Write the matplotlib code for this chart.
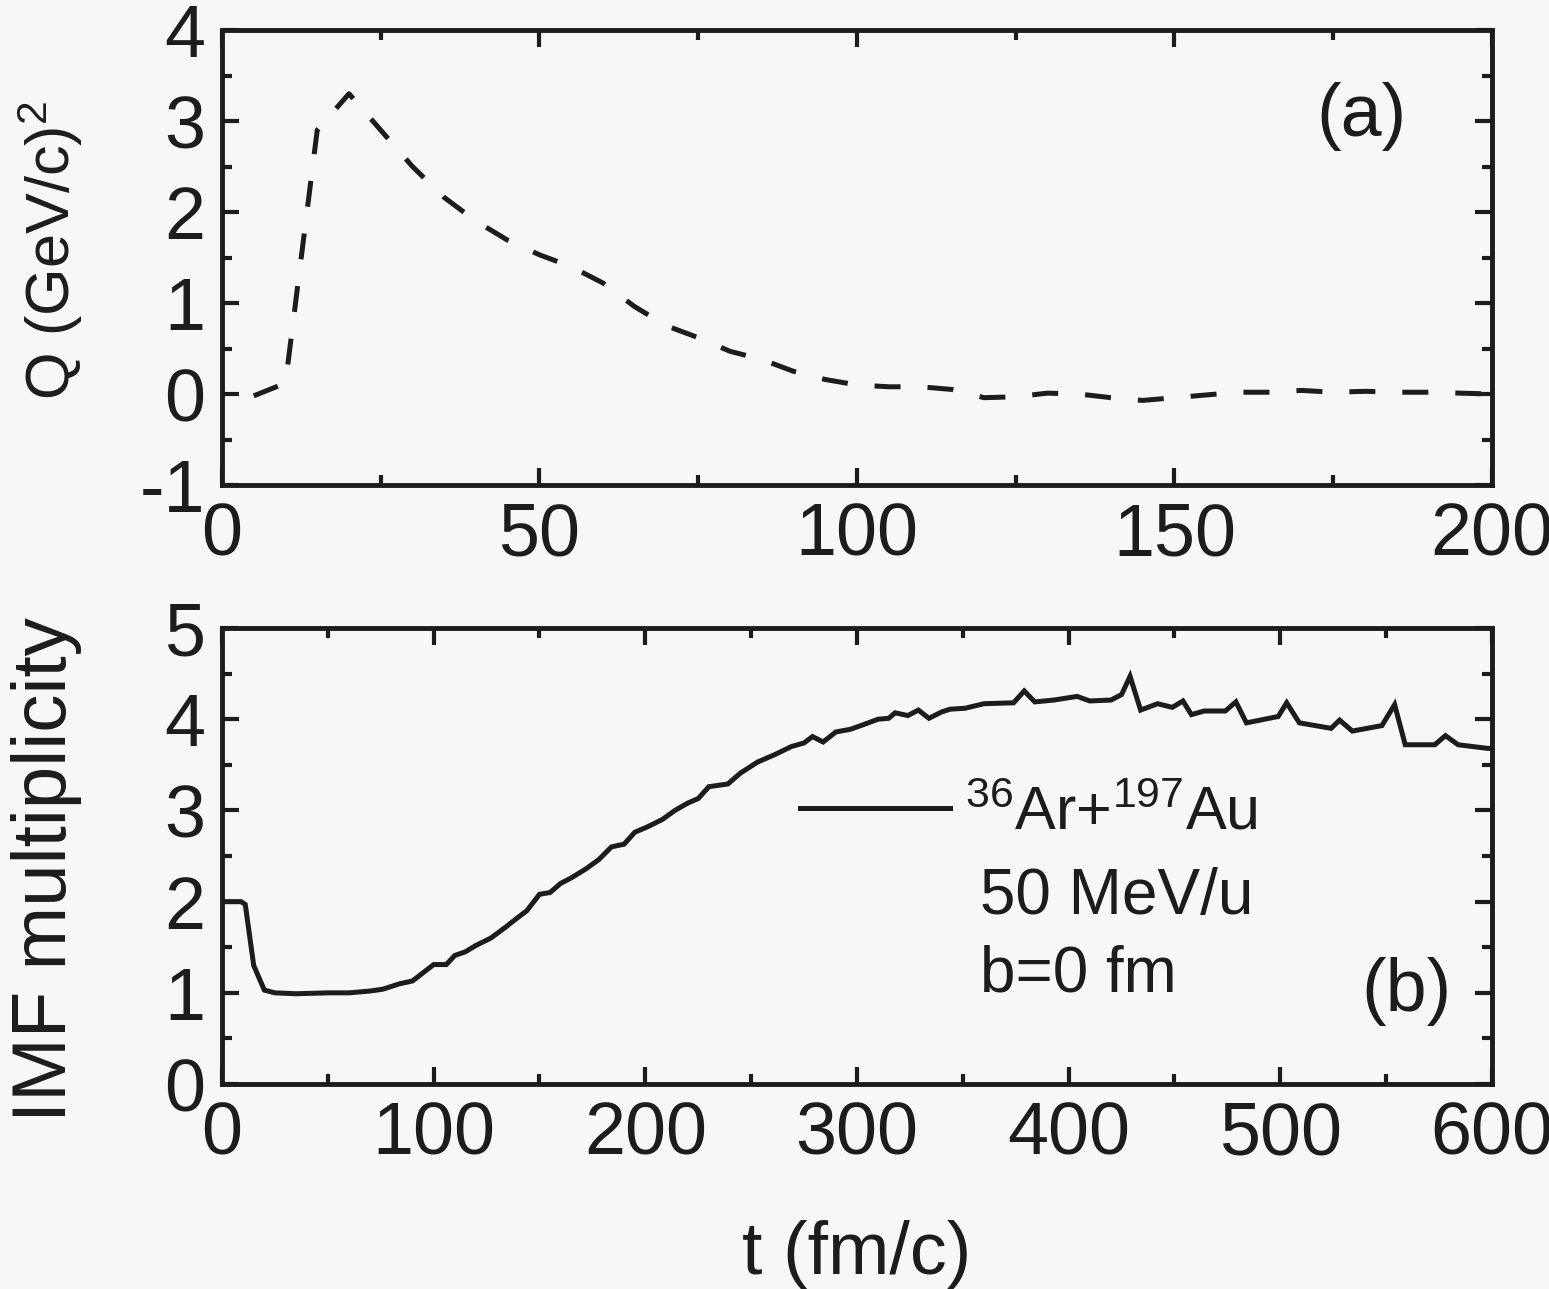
import numpy as np
import matplotlib
matplotlib.use("Agg")
import matplotlib.pyplot as plt
from matplotlib.ticker import MultipleLocator

plt.rcParams['font.family'] = ['Liberation Sans', 'DejaVu Sans']
plt.rcParams['mathtext.fontset'] = 'custom'
plt.rcParams['mathtext.rm'] = 'Liberation Sans'
plt.rcParams['mathtext.default'] = 'regular'
plt.rcParams['axes.unicode_minus'] = False

# panel (a): Q vs t
t_a = [5, 10, 15, 20, 25, 30, 35, 40, 45, 50, 55, 60, 65, 70, 75, 80, 85, 90, 95, 100,
       105, 110, 115, 120, 125, 130, 135, 140, 145, 150, 155, 160, 165, 170, 175, 180,
       185, 190, 195, 200]
q_a = [-0.02, 0.12, 2.9, 3.3, 2.9, 2.5, 2.16, 1.9, 1.69, 1.53, 1.40, 1.22, 0.96, 0.75, 0.62,
       0.47, 0.38, 0.25, 0.16, 0.10, 0.08, 0.08, 0.05, -0.04, -0.03, 0.01, 0.0, -0.04, -0.07,
       -0.04, -0.01, 0.02, 0.02, 0.04, 0.02, 0.03, 0.02, 0.02, 0.01, 0.0]

# panel (b): IMF multiplicity vs t
t_b = [0, 9, 11, 15, 20, 25, 35, 50, 60, 70, 76, 84, 90, 95, 100, 106, 110, 115, 120, 127,
       134, 140, 144, 150, 155, 160, 165, 172, 178, 184, 190, 195, 201, 208, 214, 220, 225,
       230, 239, 245, 253, 261, 269, 275, 279, 284, 290, 297, 303, 310, 315, 318, 324, 329,
       334, 340, 344, 351, 360, 374, 379, 384, 393, 404, 410, 420, 425, 429, 434, 442, 449,
       454, 458, 464, 474, 479, 484, 499, 503, 509, 524, 528, 534, 548, 554, 559, 573, 578,
       584, 598, 600]
m_b = [2.0, 2.0, 1.97, 1.3, 1.03, 1.0, 0.99, 1.0, 1.0, 1.02, 1.04, 1.1, 1.13, 1.22, 1.31,
       1.31, 1.41, 1.45, 1.52, 1.6, 1.72, 1.83, 1.9, 2.08, 2.1, 2.2, 2.26, 2.36, 2.46, 2.6,
       2.63, 2.76, 2.82, 2.9, 3.0, 3.08, 3.13, 3.26, 3.29, 3.41, 3.53, 3.61, 3.70, 3.74, 3.81,
       3.75, 3.86, 3.89, 3.94, 4.0, 4.01, 4.07, 4.04, 4.10, 4.01, 4.08, 4.11, 4.12, 4.17, 4.18,
       4.31, 4.19, 4.21, 4.25, 4.2, 4.21, 4.27, 4.47, 4.10, 4.17, 4.13, 4.2, 4.05, 4.09, 4.09,
       4.19, 3.96, 4.03, 4.18, 3.96, 3.90, 3.99, 3.87, 3.93, 4.16, 3.72, 3.72, 3.82, 3.72,
       3.68, 3.68]

bg = '#f7f7f7'
ink = '#1c1c1c'

fig = plt.figure(figsize=(15.49, 12.89), dpi=100, facecolor=bg)
ax1 = fig.add_axes([0.1433, 0.6237, 0.8199, 0.3530])
ax2 = fig.add_axes([0.1433, 0.1590, 0.8199, 0.3538])

ax1.plot(t_a, q_a, color=ink, lw=3.6, linestyle=(0, (5.2, 5.4)), dash_capstyle='butt')
ax2.plot(t_b, m_b, color=ink, lw=3.6, solid_joinstyle='miter', label='$^{36}$Ar+$^{197}$Au')

ax1.set_xlim(0, 200)
ax1.set_ylim(-1, 4)
ax1.xaxis.set_major_locator(MultipleLocator(50))
ax1.xaxis.set_minor_locator(MultipleLocator(25))
ax1.yaxis.set_major_locator(MultipleLocator(1))
ax1.yaxis.set_minor_locator(MultipleLocator(0.5))

ax2.set_xlim(0, 600)
ax2.set_ylim(0, 5)
ax2.xaxis.set_major_locator(MultipleLocator(100))
ax2.xaxis.set_minor_locator(MultipleLocator(50))
ax2.yaxis.set_major_locator(MultipleLocator(1))
ax2.yaxis.set_minor_locator(MultipleLocator(0.5))

for ax in (ax1, ax2):
    ax.set_facecolor(bg)
    for s in ax.spines.values():
        s.set_linewidth(3.5)
        s.set_color(ink)
    ax.tick_params(which='both', direction='in', top=True, right=True, color=ink,
                   labelcolor=ink, labelsize=53, width=3)
    ax.tick_params(which='major', length=12)
    ax.tick_params(which='minor', length=7)
    ax.tick_params(axis='x', pad=12)
    ax.tick_params(axis='y', pad=12)

ax1.set_ylabel('Q (GeV/c)$^2$', fontsize=44, color=ink)
ax1.yaxis.set_label_coords(-0.108, 0.515)
ax2.set_ylabel('IMF multiplicity', fontsize=55, color=ink)
ax2.yaxis.set_label_coords(-0.110, 0.47)
ax2.set_xlabel('t (fm/c)', fontsize=53, color=ink, labelpad=36)

ax1.text(0.933, 0.811, '(a)', transform=ax1.transAxes, ha='right', va='center',
         fontsize=53, color=ink)
ax2.text(0.9685, 0.204, '(b)', transform=ax2.transAxes, ha='right', va='center',
         fontsize=53, color=ink)

ax2.legend(loc='center left', bbox_to_anchor=(0.455, 0.592), frameon=False,
           fontsize=44, handlelength=2.45, handletextpad=0.25, borderpad=0,
           borderaxespad=0, labelcolor=ink)
ax2.text(0.597, 0.373, '50 MeV/u', transform=ax2.transAxes, ha='left', va='baseline',
         fontsize=46, color=ink)
ax2.text(0.597, 0.202, 'b=0 fm', transform=ax2.transAxes, ha='left', va='baseline',
         fontsize=46, color=ink)

fig.savefig('out.png', dpi=100, facecolor=bg)
